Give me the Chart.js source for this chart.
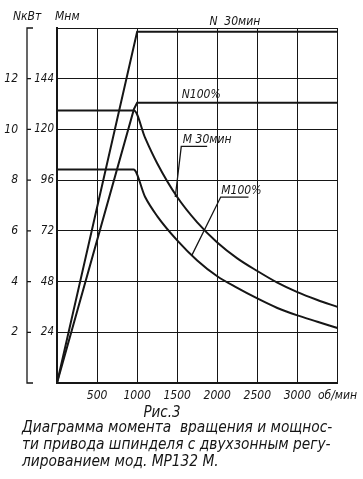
<!DOCTYPE html>
<html>
<head>
<meta charset="utf-8">
<script src="https://cdn.jsdelivr.net/npm/chart.js@4/dist/chart.umd.min.js"></script>
<style>
  html, body { margin: 0; padding: 0; background: #fff; }
  canvas { display: block; }
</style>
</head>
<body>
<canvas id="chart" width="363" height="479"></canvas>
<script>
// Power curves, кВт against об/мин
const rpmN30 = [0, 1000, 3500];
const powerN30 = [0, 13.85, 13.85];

const rpmN100 = [0, 960, 1000, 3500];
const powerN100 = [0, 10.8, 11.05, 11.05];

// Torque curves, Нм against об/мин
const rpmM30 = [0, 960, 1100, 1250, 1500, 1750, 2000, 2250, 2500, 2750, 3000, 3250, 3500];
const torqueM30 = [129, 129, 116, 104, 88, 76, 66.5, 59, 53, 47.5, 43, 39.3, 36];

const rpmM100 = [0, 955, 1100, 1250, 1500, 1750, 2000, 2250, 2500, 2750, 3000, 3250, 3500];
const torqueM100 = [101, 101, 88, 79, 67.5, 58, 50.5, 45, 40, 35.5, 32, 29, 26];

// Tick labels
const rpmTicks = [500, 1000, 1500, 2000, 2500, 3000];
const rpmUnit = 'об/мин';
const torqueTicks = [24, 48, 72, 96, 120, 144];
const powerTicks = [2, 4, 6, 8, 10, 12];

const captionLines = [
    'Диаграмма момента  вращения и мощнос-',
    'ти привода шпинделя с двухзонным регу-',
    'лированием мод. МР132 М.'
];

const ink = '#161616';
const handFamily = "'DejaVu Sans Condensed', 'Liberation Sans Narrow', 'Liberation Sans', sans-serif";
const hand = (size) => `italic ${size}px ${handFamily}`;

const points = (xs, ys) => xs.map((x, i) => ({x: x, y: ys[i]}));

const lineStyle = {
    borderColor: ink,
    borderWidth: 2,
    pointRadius: 0,
    fill: false
};

// Labels, leader lines, the N bracket and the caption
const drawingText = {
    id: 'drawingText',
    afterDraw(chart) {
        const {ctx, chartArea, scales} = chart;
        const x = scales.x, yM = scales.yM, yN = scales.yN;
        ctx.save();
        ctx.fillStyle = ink;
        ctx.strokeStyle = ink;

        // bracket of the power scale
        ctx.lineWidth = 1.3;
        ctx.beginPath();
        ctx.moveTo(33, chartArea.top);
        ctx.lineTo(27, chartArea.top);
        ctx.lineTo(27, chartArea.bottom);
        ctx.lineTo(33, chartArea.bottom);
        powerTicks.forEach(v => {
            const py = yN.getPixelForValue(v);
            ctx.moveTo(27, py);
            ctx.lineTo(31, py);
        });
        ctx.stroke();

        // axis headers
        ctx.font = hand(12);
        ctx.textBaseline = 'middle';
        ctx.textAlign = 'left';
        ctx.fillText('NкВт', 13, 17);
        ctx.fillText('Mнм', 55, 17);

        // curve names
        ctx.textAlign = 'center';
        ctx.fillText('N  30мин', x.getPixelForValue(2220), chartArea.top - 6);
        ctx.fillText('N100%', x.getPixelForValue(1800), yN.getPixelForValue(11.3) - 2);
        ctx.textAlign = 'left';
        ctx.fillText('M 30мин', x.getPixelForValue(1570), yM.getPixelForValue(115));
        ctx.fillText('M100%', x.getPixelForValue(2050), yM.getPixelForValue(91));

        // underlines and leaders
        ctx.lineWidth = 1.3;
        ctx.beginPath();
        ctx.moveTo(x.getPixelForValue(1874), yM.getPixelForValue(112));
        ctx.lineTo(x.getPixelForValue(1551), yM.getPixelForValue(112));
        ctx.lineTo(x.getPixelForValue(1476), yM.getPixelForValue(88));
        ctx.moveTo(x.getPixelForValue(2390), yM.getPixelForValue(88));
        ctx.lineTo(x.getPixelForValue(2043), yM.getPixelForValue(88));
        ctx.lineTo(x.getPixelForValue(1684), yM.getPixelForValue(60.5));
        ctx.stroke();

        // caption
        ctx.textAlign = 'center';
        ctx.font = hand(15);
        ctx.fillText('Рис.3', 162, 413);
        ctx.textAlign = 'left';
        ctx.font = hand(15.3);
        captionLines.forEach((line, i) => {
            ctx.fillText(line, 22, 428 + i * 17);
        });
        ctx.restore();
    }
};

new Chart(document.getElementById('chart'), {
    type: 'line',
    data: {
        datasets: [
            Object.assign({label: 'N 30мин', data: points(rpmN30, powerN30), yAxisID: 'yN', tension: 0}, lineStyle),
            Object.assign({label: 'N100%', data: points(rpmN100, powerN100), yAxisID: 'yN', tension: 0}, lineStyle),
            Object.assign({label: 'M 30мин', data: points(rpmM30, torqueM30), yAxisID: 'yM', cubicInterpolationMode: 'monotone'}, lineStyle),
            Object.assign({label: 'M100%', data: points(rpmM100, torqueM100), yAxisID: 'yM', cubicInterpolationMode: 'monotone'}, lineStyle)
        ]
    },
    options: {
        responsive: false,
        animation: false,
        layout: {
            padding: {left: 0, top: 28, right: 24, bottom: 0}
        },
        plugins: {
            legend: {display: false},
            tooltip: {enabled: false}
        },
        scales: {
            x: {
                type: 'linear',
                min: 0,
                max: 3500,
                afterFit: (scale) => { scale.height = 96; },
                border: {color: ink, width: 2},
                grid: {color: ink, lineWidth: 1, drawTicks: false},
                ticks: {
                    stepSize: 500,
                    autoSkip: false,
                    maxRotation: 0,
                    padding: 6,
                    color: ink,
                    font: {family: handFamily, size: 12, style: 'italic'},
                    callback: (v) => rpmTicks.includes(v) ? String(v) : (v === 3500 ? rpmUnit : '')
                }
            },
            yM: {
                type: 'linear',
                position: 'left',
                weight: 0,
                min: 0,
                max: 168,
                afterFit: (scale) => { scale.width = 30; },
                border: {color: ink, width: 2},
                grid: {color: ink, lineWidth: 1, drawTicks: false},
                ticks: {
                    stepSize: 24,
                    padding: 3,
                    color: ink,
                    font: {family: handFamily, size: 11.5, style: 'italic'},
                    callback: (v) => torqueTicks.includes(v) ? String(v) : ''
                }
            },
            yN: {
                type: 'linear',
                position: 'left',
                weight: 1,
                min: 0,
                max: 14,
                afterFit: (scale) => { scale.width = 27; },
                border: {display: false},
                grid: {drawOnChartArea: false, drawTicks: false},
                ticks: {
                    stepSize: 2,
                    padding: 9,
                    color: ink,
                    font: {family: handFamily, size: 12, style: 'italic'},
                    callback: (v) => powerTicks.includes(v) ? String(v) : ''
                }
            }
        }
    },
    plugins: [drawingText]
});
</script>
</body>
</html>
